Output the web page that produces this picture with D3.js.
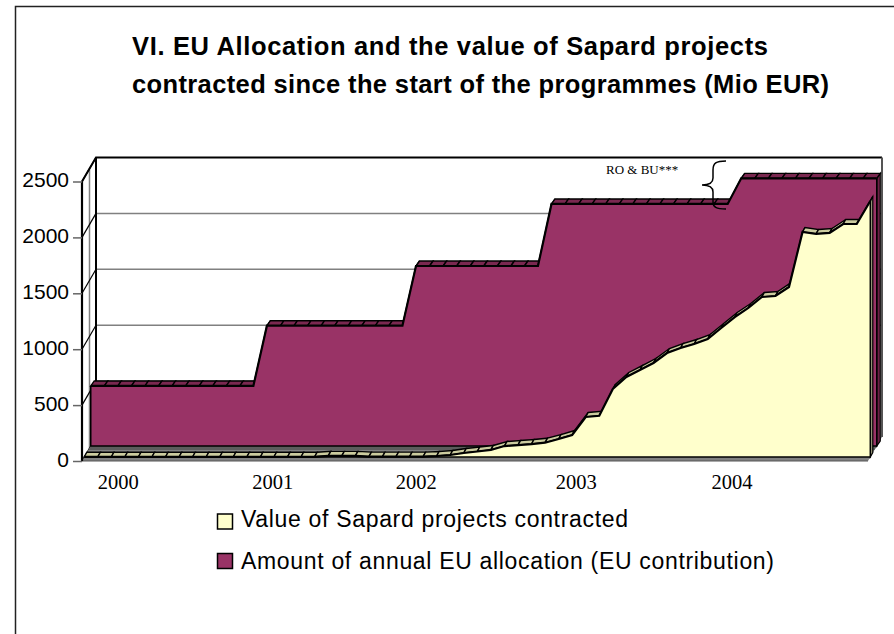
<!DOCTYPE html>
<html>
<head>
<meta charset="utf-8">
<script src="https://cdn.jsdelivr.net/npm/d3@7"></script>
<style>
  body { margin: 0; background: #fff; }
  svg { display: block; }
  text { fill: #000; }
</style>
</head>
<body>
<svg id="chart" width="894" height="634"></svg>
<script>
// values, one point per reporting date
const allocation = [
  537, 537, 537, 537, 537, 537, 537, 537, 537, 537, 537, 537, 537,
  1076, 1076, 1076, 1076, 1076, 1076, 1076, 1076, 1076, 1076, 1076,
  1610, 1610, 1610, 1610, 1610, 1610, 1610, 1610, 1610, 1610,
  2165, 2165, 2165, 2165, 2165, 2165, 2165, 2165, 2165, 2165, 2165, 2165, 2165, 2165,
  2394, 2394, 2394, 2394, 2394, 2394, 2394, 2394, 2394, 2394, 2394
];
const contracted = [
  2, 2, 2, 2, 2, 2, 2, 2, 2, 2, 2, 2, 2, 2, 2, 2, 2, 2,
  10, 10, 10, 3, 3, 3, 3, 3, 9, 18, 36, 49, 63, 98, 107, 116, 128, 161, 197,
  358, 369, 608, 716, 778, 841, 930, 975, 1011, 1055, 1154, 1252, 1333, 1431, 1440, 1521,
  2013, 1995, 2004, 2084, 2084, 2290
];
const yTicks = [0, 500, 1000, 1500, 2000, 2500];
const yearLabels = ["2000", "2001", "2002", "2003", "2004"];
const yearPositions = [2.5, 13.9, 24.5, 36.3, 47.8]; // on the point index
const legendLabels = [
  "Value of Sapard projects contracted",
  "Amount of annual EU allocation (EU contribution)"
];
const titleLines = [
  "VI. EU Allocation and the value of Sapard projects",
  "contracted since the start of the programmes (Mio EUR)"
];

const svg = d3.select("#chart");

// front edge of the box and how far the back wall is pushed up and to the right
const margin = { left: 82, right: 868, top: 181.5, bottom: 461 };
const depth = { x: 14, y: -24 };

const xScale = d3.scaleLinear().domain([0, 58]).range([0, margin.right - margin.left]);
const yScale = d3.scaleLinear().domain([0, 2500]).range([margin.bottom, margin.top]);

// outer frame of the chart object, cut off by the picture on the right and bottom
svg.append("path")
  .attr("d", "M15.5,634V6.5H894")
  .attr("fill", "none")
  .attr("stroke", "#222")
  .attr("stroke-width", 1.5);

// the original's hinted text runs wider than the font does here, so fix the line widths
const titleWidths = [636, 697];
const titles = svg.append("g")
  .attr("font-family", "Liberation Sans")
  .attr("font-weight", "bold")
  .attr("font-size", 25.5);
titleLines.forEach((t, i) => {
  titles.append("text")
    .attr("x", 132).attr("y", 55 + i * 38)
    .attr("textLength", titleWidths[i])
    .attr("lengthAdjust", "spacing")
    .text(t);
});

// walls
const backRight = margin.right + depth.x;
const backLeft = margin.left + depth.x;

svg.append("polygon")
  .attr("points", [
    [margin.left, yScale(2500)], [backLeft, yScale(2500) + depth.y],
    [backLeft, yScale(0) + depth.y], [margin.left, yScale(0)]
  ].join(" "))
  .attr("fill", "#fff");

svg.append("line")
  .attr("x1", margin.left + 7.5).attr("x2", margin.left + 7.5)
  .attr("y1", yScale(2500) - 12).attr("y2", yScale(0) - 12)
  .attr("stroke", "#808080").attr("stroke-width", 1.5);

svg.append("g").selectAll("line.grid")
  .data(yTicks.slice(1, -1))
  .enter().append("line")
  .attr("x1", backLeft).attr("x2", backRight)
  .attr("y1", d => yScale(d) + depth.y).attr("y2", d => yScale(d) + depth.y)
  .attr("stroke", "#808080").attr("stroke-width", 1.5);

svg.append("g").selectAll("line.side")
  .data(yTicks)
  .enter().append("line")
  .attr("x1", margin.left).attr("x2", backLeft)
  .attr("y1", d => yScale(d)).attr("y2", d => yScale(d) + depth.y)
  .attr("stroke", "#000").attr("stroke-width", 1.2);

svg.append("path")
  .attr("d", `M${margin.left},${yScale(2500)}L${backLeft},${yScale(2500) + depth.y}H${backRight}`)
  .attr("fill", "none").attr("stroke", "#000").attr("stroke-width", 2);
svg.append("line")
  .attr("x1", backLeft).attr("x2", backLeft)
  .attr("y1", yScale(2500) + depth.y).attr("y2", yScale(0) + depth.y)
  .attr("stroke", "#000").attr("stroke-width", 2);
svg.append("line")
  .attr("x1", backRight).attr("x2", backRight)
  .attr("y1", yScale(2500) + depth.y).attr("y2", yScale(0) + depth.y)
  .attr("stroke", "#555").attr("stroke-width", 2);

// floor
svg.append("polygon")
  .attr("points", [
    [margin.left, yScale(0)], [margin.right, yScale(0)],
    [backRight, yScale(0) + depth.y], [backLeft, yScale(0) + depth.y]
  ].join(" "))
  .attr("fill", "#808080");
// darker strip where the allocation area stands on the floor
svg.append("polygon")
  .attr("points", [
    [margin.left + 8.75, yScale(0) - 15], [margin.right + 8.75, yScale(0) - 15],
    [margin.right + 6.5, yScale(0) - 11], [margin.left + 6.5, yScale(0) - 11]
  ].join(" "))
  .attr("fill", "#5c5c5c");
svg.append("line")
  .attr("x1", margin.left).attr("x2", margin.right)
  .attr("y1", yScale(0)).attr("y2", yScale(0))
  .attr("stroke", "#555").attr("stroke-width", 1.2);

function drawSeries(values, plane, thick, colors) {
  const g = svg.append("g");
  const px = i => margin.left + plane.x + xScale(i);
  const py = v => yScale(v) + plane.y;

  const area = d3.area()
    .x((d, i) => px(i))
    .y0(py(0))
    .y1(d => py(d));
  const top = d3.line()
    .x((d, i) => px(i))
    .y(d => py(d));

  // end face on the right
  const last = values.length - 1;
  g.append("polygon")
    .attr("points", [
      [px(last), py(values[last])], [px(last) + thick.x, py(values[last]) + thick.y],
      [px(last) + thick.x, py(0) + thick.y], [px(last), py(0)]
    ].join(" "))
    .attr("fill", colors.side)
    .attr("stroke", "#000").attr("stroke-width", 1.2);

  // one small ribbon piece per interval
  g.selectAll("polygon.ribbon")
    .data(d3.pairs(values.map((v, i) => ({ v, i }))))
    .enter().append("polygon")
    .attr("class", "ribbon")
    .attr("points", ([a, b]) => [
      [px(a.i), py(a.v)], [px(b.i), py(b.v)],
      [px(b.i) + thick.x, py(b.v) + thick.y], [px(a.i) + thick.x, py(a.v) + thick.y]
    ].join(" "))
    .attr("fill", colors.ribbon)
    .attr("stroke", "#000").attr("stroke-width", 1.4);

  g.append("path")
    .attr("d", area(values))
    .attr("fill", colors.front);
  g.append("path")
    .attr("d", top(values))
    .attr("fill", "none").attr("stroke", "#000").attr("stroke-width", 2.2);
  g.append("path")
    .attr("d", `M${px(0)},${py(values[0])}V${py(0)}H${px(last)}V${py(values[last])}`)
    .attr("fill", "none").attr("stroke", "#000").attr("stroke-width", 1.5);
}

drawSeries(allocation, { x: 8.75, y: -15 }, { x: 3.5, y: -5 },
  { front: "#993366", ribbon: "#7a2850", side: "#6b2146" });
drawSeries(contracted, { x: 2.3, y: -4 }, { x: 2.5, y: -4.5 },
  { front: "#ffffcc", ribbon: "#cccc9f", side: "#99997a" });

// value axis along the front left edge
const yAxis = d3.axisLeft(yScale)
  .tickValues(yTicks)
  .tickSize(9)
  .tickPadding(4)
  .tickFormat(d3.format("d"));
const yAxisG = svg.append("g")
  .attr("transform", `translate(${margin.left},0)`)
  .call(yAxis);
yAxisG.select(".domain")
  .attr("d", `M0,${yScale(2500)}V${yScale(0)}`)
  .attr("stroke", "#000").attr("stroke-width", 2.2);
yAxisG.selectAll(".tick line").attr("stroke", "#666").attr("stroke-width", 1.5);
yAxisG.selectAll(".tick text")
  .attr("font-family", "Liberation Sans")
  .attr("font-size", 21)
  .attr("y", -1.5);

// year labels sit unevenly in the original
svg.append("g").selectAll("text")
  .data(yearLabels)
  .enter().append("text")
  .attr("x", (d, i) => margin.left + 2.3 + xScale(yearPositions[i]))
  .attr("y", 489)
  .attr("text-anchor", "middle")
  .attr("font-family", "Liberation Serif")
  .attr("font-size", 20.5)
  .text(d => d);

// RO & BU note
svg.append("text")
  .attr("x", 606).attr("y", 174)
  .attr("font-family", "Liberation Serif")
  .attr("font-size", 13)
  .attr("fill", "#222")
  .text("RO & BU***");
svg.append("path")
  .attr("d", "M726,161C716,161 713,163 713,170V178C713,183 709,185 702,185C709,185 713,187 713,192V202C713,207 716,209 726,209")
  .attr("fill", "none").attr("stroke", "#000").attr("stroke-width", 1.5);

// legend
const legendColors = ["#ffffcc", "#993366"];
const legendWidths = [387, 533];
const legend = svg.append("g").selectAll("g")
  .data(legendLabels)
  .enter().append("g")
  .attr("transform", (d, i) => `translate(217.5,${514 + i * 39.5})`);
legend.append("rect")
  .attr("width", 15).attr("height", 15)
  .attr("fill", (d, i) => legendColors[i])
  .attr("stroke", "#000").attr("stroke-width", 1.5);
legend.append("text")
  .attr("x", 23.5).attr("y", (d, i) => 13 + i * 2)
  .attr("font-family", "Liberation Sans")
  .attr("font-size", 23)
  .attr("textLength", (d, i) => legendWidths[i])
  .attr("lengthAdjust", "spacing")
  .text(d => d);
</script>
</body>
</html>
